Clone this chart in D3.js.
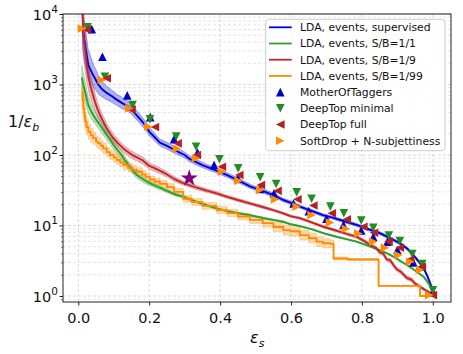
<!DOCTYPE html>
<html><head><meta charset="utf-8">
<script src="https://cdn.jsdelivr.net/npm/d3@7"></script>
<style>
html,body{margin:0;padding:0;background:#fff;}
svg{display:block;font-family:"DejaVu Sans",sans-serif;}
</style></head>
<body>
<svg id="chart" width="463" height="354"></svg>
<script>
// ---- data: [signal efficiency, 1/eps_b, band factor] ----
const ldaSupervised = [
 [0.012,6500,2.0],[0.016,4500,1.9],[0.022,2900,1.8],[0.028,1900,1.65],[0.035,1600,1.55],
 [0.042,1350,1.45],[0.05,1150,1.4],[0.056,1000,1.35],[0.065,880,1.3],[0.08,760,1.25],
 [0.095,680,1.22],[0.108,610,1.2],[0.125,540,1.2],[0.146,470,1.18],[0.16,390,1.17],
 [0.175,320,1.16],[0.19,260,1.15],[0.2,215,1.15],[0.215,180,1.13],[0.23,150,1.12],
 [0.25,135,1.12],[0.28,112,1.11],[0.3,100,1.1],[0.314,88,1.1],[0.35,72,1.09],
 [0.39,60,1.08],[0.42,52,1.08],[0.45,44,1.08],[0.484,36,1.07],[0.52,31,1.07],
 [0.55,27,1.07],[0.578,23,1.06],[0.6,21,1.06],[0.625,18.5,1.05],[0.66,16,1.05],
 [0.69,14,1.05],[0.72,12.8,1.05],[0.75,11.5,1.05],[0.785,10.2,1.05],[0.82,8.8,1.05],
 [0.85,7.8,1.05],[0.88,6.6,1.05],[0.907,5.6,1.05],[0.93,4.6,1.05],[0.945,3.8,1.05],
 [0.96,3.1,1.05],[0.974,2.5,1.05],[0.985,1.9,1.05],[0.995,1.4,1.05],[1.0,1.15,1.05]
];
const ldaSB1 = [
 [0.010,1250,1.5],[0.014,1000,1.45],[0.019,790,1.4],[0.024,620,1.35],[0.028,510,1.3],
 [0.035,430,1.28],[0.042,370,1.25],[0.05,320,1.22],[0.061,267,1.2],[0.07,230,1.2],
 [0.08,192,1.18],[0.09,165,1.18],[0.099,140,1.16],[0.11,118,1.16],[0.122,100,1.15],
 [0.13,86,1.14],[0.141,72,1.13],[0.153,61,1.12],[0.165,52,1.11],[0.18,46,1.1],
 [0.193,42,1.09],[0.21,38,1.08],[0.23,34.5,1.07],[0.25,31,1.06],[0.27,28,1.05],
 [0.296,25.5,1.05],[0.33,22,1.04],[0.36,19.5,1.04],[0.39,17.5,1.03],[0.42,16,1.03],
 [0.45,15,1.03],[0.484,14,1.03],[0.52,12.8,1.03],[0.55,12,1.03],[0.578,11.3,1.03],
 [0.6,10.4,1.02],[0.625,9.8,1.02],[0.66,8.8,1.02],[0.691,7.8,1.02],[0.72,7.1,1.02],
 [0.75,6.5,1.02],[0.785,5.9,1.02],[0.82,5.1,1.02],[0.861,4.25,1.02],[0.89,3.6,1.02],
 [0.91,3.1,1.02],[0.927,2.75,1.02],[0.95,2.3,1.02],[0.974,1.88,1.02],[0.99,1.45,1.02],
 [1.0,1.2,1.02]
];
const ldaSB9 = [
 [0.011,12000,2.2],[0.014,5500,2.1],[0.018,3500,2.0],[0.024,1900,1.8],[0.028,1400,1.6],
 [0.033,1000,1.5],[0.04,750,1.4],[0.047,570,1.32],[0.054,450,1.27],[0.061,370,1.22],
 [0.07,300,1.2],[0.08,240,1.18],[0.09,200,1.16],[0.099,173,1.15],[0.11,150,1.14],
 [0.127,124,1.13],[0.14,110,1.13],[0.155,98,1.13],[0.17,90,1.12],[0.183,83,1.12],
 [0.2,70,1.11],[0.212,66,1.1],[0.23,60,1.1],[0.25,53,1.09],[0.27,46,1.08],
 [0.296,40,1.07],[0.33,35,1.07],[0.36,31.5,1.06],[0.39,28.6,1.06],[0.42,25.5,1.05],
 [0.45,23,1.05],[0.484,20.6,1.05],[0.52,18.3,1.05],[0.55,16.5,1.04],[0.578,14.9,1.04],
 [0.6,13.5,1.04],[0.625,12.7,1.04],[0.66,11,1.04],[0.691,9.6,1.04],[0.72,8.7,1.04],
 [0.75,7.8,1.04],[0.785,6.9,1.05],[0.805,6.1,1.05],[0.823,5.3,1.06],[0.84,4.8,1.06],
 [0.85,4.2,1.07],[0.86,4.0,1.07],[0.87,3.3,1.07],[0.88,3.2,1.07],[0.89,2.7,1.07],
 [0.898,2.4,1.07],[0.91,2.2,1.07],[0.927,1.8,1.07],[0.94,1.7,1.07],[0.95,1.5,1.06],
 [0.964,1.35,1.05],[0.98,1.2,1.05],[1.0,1.05,1.05]
];
const ldaSB99 = [
 [0.010,780,1.6],[0.012,600,1.5],[0.014,460,1.45],[0.017,360,1.4],[0.019,300,1.35],
 [0.023,250,1.3],[0.028,214,1.28],[0.035,190,1.25],[0.042,173,1.22],[0.05,155,1.2],
 [0.056,146,1.2],[0.063,135,1.18],[0.07,124,1.18],[0.08,110,1.17],[0.089,100,1.17],
 [0.1,92,1.16],[0.108,85,1.16],[0.118,78,1.15],[0.127,72,1.15],[0.14,66,1.14],
 [0.152,62,1.14],[0.165,58,1.14],[0.18,53,1.13],[0.19,49,1.13],[0.202,45,1.12],
 [0.215,42,1.12],[0.23,39,1.12],[0.25,35,1.12],[0.27,30,1.12],[0.296,24,1.12],
 [0.32,21.5,1.12],[0.35,19,1.12],[0.39,16.6,1.12],[0.42,15,1.12],[0.45,13.4,1.12],
 [0.484,12,1.12],[0.52,10.8,1.14],[0.55,9.5,1.16],[0.578,8.6,1.17],[0.597,8.3,1.17],
 [0.625,7.3,1.17],[0.65,6.6,1.17],[0.672,5.9,1.17],[0.69,5.6,1.16],[0.71,5.5,1.13],
 [0.72,3.4,1.05],[0.76,3.3,1.03],[0.847,1.39,1.01],[0.964,1.0,1.01],[1.0,1.0,1.01]
];
const motherOfTaggers = [
 [0.038,6100],[0.068,2480],[0.138,700],[0.203,345],[0.27,168],[0.336,108],[0.383,72],
 [0.45,47],[0.512,33],[0.552,28.6],[0.607,20.5],[0.65,16],[0.70,12.5],[0.748,10.2],
 [0.798,8.5],[0.832,6.9],[0.872,5.9],[0.9,4.5],[0.945,3.0],[0.969,2.6],[1.0,1.15]
];
const deepTopMinimal = [
 [0.026,6500],[0.075,1290],[0.153,510],[0.202,320],[0.276,182],[0.332,131],[0.398,87],
 [0.451,64.7],[0.513,48.3],[0.558,38.8],[0.616,29.5],[0.658,24],[0.711,18.5],[0.749,14.9],
 [0.798,11.8],[0.832,9.3],[0.876,7.2],[0.907,6.0],[0.942,3.95],[0.97,2.85],[1.0,1.2]
];
const deepTopFull = [
 [0.024,6000],[0.08,1225],[0.15,440],[0.216,250],[0.28,146],[0.334,100],[0.405,68],
 [0.454,52],[0.515,37.5],[0.562,31],[0.618,23.5],[0.663,19.2],[0.715,14.9],[0.757,12.2],
 [0.804,9.6],[0.834,7.9],[0.875,5.9],[0.907,4.85],[0.936,3.3],[0.969,2.6],[1.0,1.03]
];
const softDropNsub = [
 [0.01,6200],[0.066,1160],[0.144,460],[0.198,252],[0.278,123],[0.332,90],[0.405,58],
 [0.452,43],[0.513,32],[0.555,23.5],[0.616,18.5],[0.658,14.1],[0.71,11],[0.755,9.0],
 [0.79,7.7],[0.832,5.9],[0.865,4.85],[0.903,3.8],[0.936,3.06],[0.964,2.34],[0.99,1.03]
];
const starPoint = [[0.313,46.7]];

const xTicks = [0.0,0.2,0.4,0.6,0.8,1.0];
const yTicks = [1,10,100,1000,10000];
const yTickExp = ["0","1","2","3","4"];
const legendLabels = ["LDA, events, supervised","LDA, events, S/B=1/1","LDA, events, S/B=1/9","LDA, events, S/B=1/99",
  "MotherOfTaggers","DeepTop minimal","DeepTop full","SoftDrop + N-subjettiness"];

// ---- styling ----
const C = {blue:"#0000d8", green:"#2ca02c", red:"#c0282a", orange:"#ff8c00",
  mBlue:"#0000cd", mGreen:"#228b22", mRed:"#b22222", mOrange:"#ff8c00", star:"#800080"};
const L = 63, R = 451, T = 14, B = 302;
const svg = d3.select("#chart");
const x = d3.scaleLinear().domain([-0.0432, 1.0513]).range([L, R]);
const y = d3.scaleLog().domain([0.822, 10000]).range([B, T]);

svg.append("defs").append("clipPath").attr("id","clip")
  .append("rect").attr("x",L).attr("y",T).attr("width",R-L).attr("height",B-T);

// grid
const grid = svg.append("g");
const minorVals = [];
[0.1,1,10,100,1000].forEach(d => { for (let k=2;k<=9;k++){ const v=d*k; if (v>0.822 && v<10000) minorVals.push(v);} });
grid.selectAll(".gmin").data(minorVals).join("line")
  .attr("x1",L).attr("x2",R).attr("y1",d=>y(d)).attr("y2",d=>y(d))
  .attr("stroke","#dedede").attr("stroke-width",0.8).attr("stroke-dasharray","3,2");
grid.selectAll(".gmaj").data(yTicks).join("line")
  .attr("x1",L).attr("x2",R).attr("y1",d=>y(d)).attr("y2",d=>y(d))
  .attr("stroke","#d0d0d0").attr("stroke-width",0.8).attr("stroke-dasharray","3,2");
grid.selectAll(".gx").data(xTicks).join("line")
  .attr("x1",d=>x(d)).attr("x2",d=>x(d)).attr("y1",T).attr("y2",B)
  .attr("stroke","#d0d0d0").attr("stroke-width",0.8).attr("stroke-dasharray","3,2");

const plot = svg.append("g").attr("clip-path","url(#clip)");
const series = [
  {data:ldaSupervised, c:C.blue, step:false},
  {data:ldaSB1, c:C.green, step:false},
  {data:ldaSB9, c:C.red, step:false},
  {data:ldaSB99, c:C.orange, step:true}
];
series.forEach(s => {
  const area = d3.area().x(d=>x(d[0])).y0(d=>y(d[1]/d[2])).y1(d=>y(d[1]*d[2]));
  if (s.step) area.curve(d3.curveStepAfter);
  plot.append("path").attr("d",area(s.data)).attr("fill",s.c).attr("fill-opacity",0.3)
    .attr("stroke",s.c).attr("stroke-opacity",0.3).attr("stroke-width",1);
});
series.forEach(s => {
  const line = d3.line().x(d=>x(d[0])).y(d=>y(d[1]));
  if (s.step) line.curve(d3.curveStepAfter);
  plot.append("path").attr("d",line(s.data)).attr("fill","none").attr("stroke",s.c)
    .attr("stroke-width",1.9).attr("stroke-linejoin","round");
});

const r = 4.3;
const shapes = {
  up: `M0,${-r}L${r},${r}L${-r},${r}Z`,
  down: `M0,${r}L${r},${-r}L${-r},${-r}Z`,
  left: `M${-r},0L${r},${-r}L${r},${r}Z`,
  right: `M${r},0L${-r},${-r}L${-r},${r}Z`
};
function starPath(Ro){
  const Ri = Ro*0.382; let p = "";
  for (let i=0;i<10;i++){ const rr = i%2?Ri:Ro; const a = -Math.PI/2 + i*Math.PI/5;
    p += (i?"L":"M") + (rr*Math.cos(a)).toFixed(2) + "," + (rr*Math.sin(a)).toFixed(2); }
  return p+"Z";
}
const markers = [
  {data:motherOfTaggers, shape:"up", c:C.mBlue},
  {data:deepTopMinimal, shape:"down", c:C.mGreen},
  {data:deepTopFull, shape:"left", c:C.mRed},
  {data:softDropNsub, shape:"right", c:C.mOrange}
];
const mg = svg.append("g").attr("clip-path","url(#clip)");
markers.forEach(m => {
  mg.selectAll(null).data(m.data).join("path")
    .attr("d",shapes[m.shape]).attr("fill",m.c)
    .attr("transform",d=>`translate(${x(d[0])},${y(d[1])})`);
});
mg.selectAll(null).data(starPoint).join("path").attr("d",starPath(9)).attr("fill",C.star)
  .attr("transform",d=>`translate(${x(d[0])},${y(d[1])})`);

// axes
const xAxis = d3.axisBottom(x).tickValues(xTicks).tickFormat(d3.format(".1f")).tickSize(3.5).tickPadding(5);
const gx = svg.append("g").attr("transform",`translate(0,${B})`).call(xAxis);
gx.select(".domain").remove();
gx.selectAll("line").attr("stroke","#222");
gx.selectAll("text").attr("font-size","14.5px").attr("font-family","DejaVu Sans").attr("fill","#111")
  .attr("y",null).attr("dy",null).attr("transform","translate(0,20.7)");

const yAxis = d3.axisLeft(y).tickValues(yTicks).tickFormat("").tickSize(3.5);
const gy = svg.append("g").attr("transform",`translate(${L},0)`).call(yAxis);
gy.select(".domain").remove();
gy.selectAll("line").attr("stroke","#222");
const yMinor = d3.axisLeft(y).tickValues(minorVals).tickFormat("").tickSize(2);
const gym = svg.append("g").attr("transform",`translate(${L},0)`).call(yMinor);
gym.select(".domain").remove();
gym.selectAll("line").attr("stroke","#222").attr("stroke-width",0.6);

const ylab = svg.append("g");
yTicks.forEach((v,i) => {
  const t = ylab.append("text").attr("x",58).attr("y",y(v)+5.8).attr("text-anchor","end")
    .attr("font-size","14.5px").attr("fill","#111");
  t.append("tspan").text("10");
  t.append("tspan").attr("dy",-7).attr("font-size","10.5px").text(yTickExp[i]);
});

// frame
svg.append("rect").attr("x",L).attr("y",T).attr("width",R-L).attr("height",B-T)
  .attr("fill","none").attr("stroke","#222").attr("stroke-width",1);

// axis labels
const xl = svg.append("text").attr("x",250).attr("y",343).attr("font-size","16px").attr("fill","#111");
xl.append("tspan").attr("font-style","italic").text("ε");
xl.append("tspan").attr("dy",3.5).attr("font-size","11px").attr("font-style","italic").text("s");
const yl = svg.append("text").attr("x",8).attr("y",126.5).attr("font-size","16px").attr("fill","#111");
yl.append("tspan").text("1/");
yl.append("tspan").attr("font-style","italic").text("ε");
yl.append("tspan").attr("dy",4).attr("font-size","11px").attr("font-style","italic").text("b");

// legend
const lg = svg.append("g");
lg.append("rect").attr("x",265.7).attr("y",19.3).attr("width",179.3).attr("height",131.4).attr("rx",3)
  .attr("fill","#fff").attr("fill-opacity",0.85).attr("stroke","#cccccc").attr("stroke-width",1);
const lineCols = [C.blue,C.green,C.red,C.orange];
legendLabels.forEach((lab,i) => {
  const cy = 27.3 + i*16.2;
  if (i < 4) {
    lg.append("line").attr("x1",269).attr("x2",291.7).attr("y1",cy).attr("y2",cy)
      .attr("stroke",lineCols[i]).attr("stroke-width",1.8);
  } else {
    const m = markers[i-4];
    lg.append("path").attr("d",shapes[m.shape]).attr("fill",m.c).attr("transform",`translate(280.3,${cy})`);
  }
  lg.append("text").attr("x",300).attr("y",cy+3.9).attr("font-size","10.8px").attr("fill","#111").text(lab);
});
</script>
</body></html>
